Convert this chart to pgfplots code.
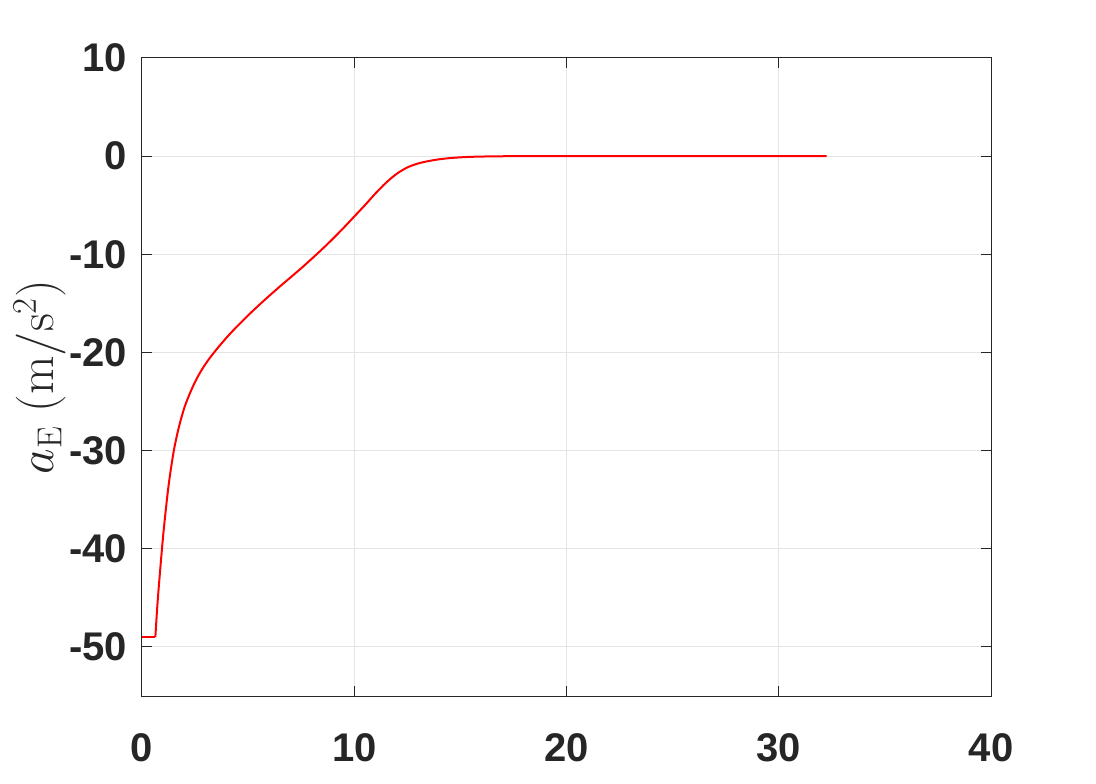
\documentclass[border=0pt]{standalone}
\usepackage{pgfplots}
\pgfplotsset{compat=1.18}
\usepackage[no-math]{fontspec}
\setmainfont{Liberation Sans}
\definecolor{axgray}{RGB}{38,38,38}
\definecolor{gridgray}{RGB}{228,228,228}
\begin{document}
\begin{tikzpicture}
\useasboundingbox (0,0) rectangle (548pt,391.5pt);
\begin{axis}[
  at={(71pt,43.5pt)}, anchor=south west,
  scale only axis, width=424.5pt, height=319pt,
  xmin=0, xmax=40, ymin=-55, ymax=10,
  xtick={0,10,20,30,40}, ytick={-50,-40,-30,-20,-10,0,10},
  xticklabels={0,10,20,30,40},
  yticklabels={-50,-40,-30,-20,-10,0,10},
  tick label style={font=\fontsize{20}{22}\selectfont\bfseries, text=axgray},
  xticklabel style={yshift=-15pt},
  yticklabel style={xshift=-4pt},
  axis line style={axgray, line width=0.5pt},
  tick style={axgray, line width=0.5pt},
  major tick length=5pt,
  tick align=inside,
  xmajorgrids, ymajorgrids,
  grid style={gridgray, line width=0.5pt},
  ylabel={$a_{\mathrm{E}}\ (\mathrm{m/s^2})$},
  every axis y label/.style={at={(rel axis cs:0,0.5)}, xshift=-51pt, rotate=90, anchor=center, font=\fontsize{25}{28}\selectfont, text=axgray},
  clip=false,
]
\addplot[red, line width=1pt] coordinates {(0,-49) (0.63,-49)};
\addplot[red, line width=1pt, smooth, tension=0.5] coordinates {
(0.63,-49) (0.75,-45.0) (1.0,-38.6) (1.25,-33.6) (1.5,-30.0) (1.75,-27.5) (2.0,-25.6) (2.25,-24.2) (2.5,-23.0) (2.75,-22.0) (3.0,-21.15) (3.25,-20.4) (3.5,-19.72) (3.75,-19.07) (4.0,-18.45) (4.25,-17.86) (4.5,-17.3) (5.0,-16.22) (5.5,-15.2) (6.0,-14.22) (6.5,-13.27) (7.0,-12.35) (7.5,-11.42) (8.0,-10.45) (8.5,-9.45) (9.0,-8.4) (9.5,-7.3) (10.0,-6.15) (10.5,-5.0) (11.0,-3.8) (11.5,-2.7) (12.0,-1.8) (12.5,-1.15) (13.0,-0.75) (13.5,-0.5) (14.0,-0.32) (14.5,-0.2) (15.0,-0.12) (15.5,-0.07) (16.0,-0.04) (17.0,-0.01) (18.0,0) (25.0,0) (32.26,0)};
\end{axis}
\end{tikzpicture}
\end{document}
